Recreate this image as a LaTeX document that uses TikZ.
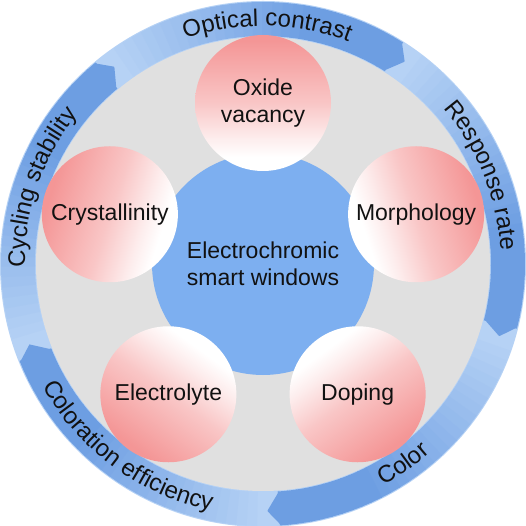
\documentclass[tikz,border=0pt]{standalone}
\usepackage{fontspec}
\setmainfont{Liberation Sans}
\usetikzlibrary{decorations.text}
\definecolor{ringL}{HTML}{B6D2F5}
\definecolor{arrowD}{HTML}{6D9EE2}
\definecolor{diskG}{HTML}{E0E0E0}
\definecolor{cblue}{HTML}{7DAFF0}
\definecolor{pinkD}{HTML}{F49696}
\definecolor{pinkM}{HTML}{F9C6C6}
\definecolor{pinkL}{HTML}{FDEDED}
\definecolor{txt}{HTML}{111111}
\pgfdeclarehorizontalshading{pinkball}{100bp}{color(0bp)=(pinkD); color(27bp)=(pinkD); color(50bp)=(pinkM); color(63bp)=(pinkL); color(70bp)=(white); color(100bp)=(white)}
\newcommand{\ringfont}{\fontsize{24}{24}\selectfont}
\newcommand{\innerfont}{\fontsize{23}{27}\selectfont}
\begin{document}
\begin{tikzpicture}[x=1pt,y=1pt,
  ball/.style={circle, minimum size=136pt, inner sep=0pt, shading=pinkball, align=center, font=\innerfont, text=txt},
  hub/.style={circle, minimum size=222pt, inner sep=0pt, fill=cblue, align=center, font=\innerfont, text=txt},
  ringtext/.style={decorate, decoration={text along path, text align=center, text color=txt, text={|\ringfont|#1}}}]
\useasboundingbox (-263,-262) rectangle (263,264);
\fill[ringL] (0,0) circle (263);
\fill[diskG] (0,0) circle (227);
% circular arrows
\foreach \T in {127,55,-17,-89,-161}{
  \pgfmathsetmacro{\S}{\T+3}
  \foreach \i in {0,...,29}{
    \pgfmathsetmacro{\aA}{\T+72-\i*2.3}
    \pgfmathsetmacro{\aB}{\aA-2.6}
    \pgfmathtruncatemacro{\p}{min(100,\i*100/20)}
    \fill[arrowD!\p!ringL] (\aA:262) arc (\aA:\aB:262) -- (\aB:228) arc (\aB:\aA:228) -- cycle;
  }
  \fill[arrowD] (\S:262) -- (\T:247) -- (\S:228) -- cycle;
}
% ring labels
\path[ringtext=Optical contrast] (129:238) arc (129:49:238);
\path[ringtext=Response rate] (62:238) arc (62:-18:238);
\path[ringtext=Cycling stability] (201:238) arc (201:121:238);
\path[ringtext=Coloration efficiency] (193:252) arc (193:274:252);
\path[ringtext=Color] (-95:252) arc (-95:-15:252);
% hub
\node[hub] (hub) at (0,0) {Electrochromic\\smart windows};
% factors
\node[ball, shading angle=270] (oxide) at (90:161) {Oxide\\vacancy};
\node[ball, shading angle=342] (cryst) at (162:161) {Crystallinity};
\node[ball, shading angle=198] (morph) at (18:161) {Morphology};
\node[ball, shading angle=54] (elec) at (234:161) {Electrolyte};
\node[ball, shading angle=126] (dop) at (306:161) {Doping};
\end{tikzpicture}
\end{document}
